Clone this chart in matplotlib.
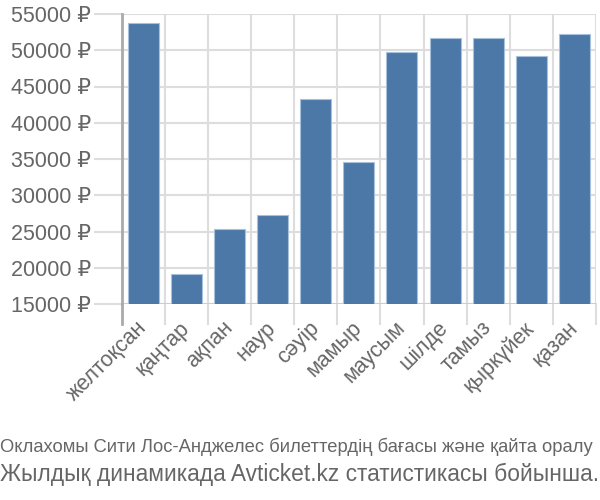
import numpy as np
import matplotlib.pyplot as plt

months = ['желтоқсан', 'қаңтар', 'ақпан', 'наур', 'сәуір', 'мамыр',
          'маусым', 'шілде', 'тамыз', 'қыркүйек', 'қазан']
prices = [53760, 19090, 25410, 27260, 43250, 34590,
          49820, 51750, 51750, 49270, 52300]
yticks = [15000, 20000, 25000, 30000, 35000, 40000, 45000, 50000, 55000]
caption1 = 'Оклахомы Сити Лос-Анджелес билеттердің бағасы және қайта оралу'
caption2 = 'Жылдық динамикада Avticket.kz статистикасы бойынша.'

plt.rcParams['font.family'] = ['Liberation Sans', 'DejaVu Sans']
txt = '#666666'
grid = '#dddddd'

fig = plt.figure(figsize=(6, 5), dpi=100)
ax = fig.add_axes([0.2028, 0.392, 0.7905, 0.58])

x = np.arange(len(months))
ax.bar(x, prices, width=0.72, bottom=0, color='#4c78a8',
       edgecolor='#a7c0dc', linewidth=0.8, zorder=3)

ax.set_ylim(15000, 55000)
ax.set_xlim(-0.5, len(months) - 0.5)

ax.set_yticks(yticks)
ax.set_yticklabels([f'{v} ₽' for v in yticks])
ax.set_xticks(x)
ax.set_xticklabels(months, rotation=45, ha='right', va='center',
                   rotation_mode='anchor')

# vertical lines between categories, extending below the axis
for b in np.arange(0.5, len(months), 1.0):
    ax.axvline(b, color=grid, lw=1.5, zorder=1)
    ax.plot([b, b], [0, -0.07], transform=ax.get_xaxis_transform(),
            color=grid, lw=1.5, clip_on=False)
ax.yaxis.grid(True, color=grid, lw=1.5, zorder=1)

for s in ['top', 'right', 'bottom']:
    ax.spines[s].set_visible(False)
ax.spines['left'].set_color('#aaaaaa')
ax.spines['left'].set_linewidth(2)
ax.plot([-0.5, -0.5], [0, -0.07], transform=ax.get_xaxis_transform(),
        color='#aaaaaa', lw=2, clip_on=False)
ax.axhline(15000, color='#cccccc', lw=2, zorder=2)

ax.tick_params(axis='y', length=20, width=1.5, color=grid, pad=2,
               labelsize=15.5, labelcolor=txt)
ax.tick_params(axis='x', length=0, pad=15, labelsize=15.5, labelcolor=txt)

fig.text(0.0, 0.106, caption1, fontsize=13.2, color=txt,
         ha='left', va='center')
fig.text(0.0, 0.052, caption2, fontsize=16.4, color=txt, ha='left', va='center')

fig.savefig('out.png')
